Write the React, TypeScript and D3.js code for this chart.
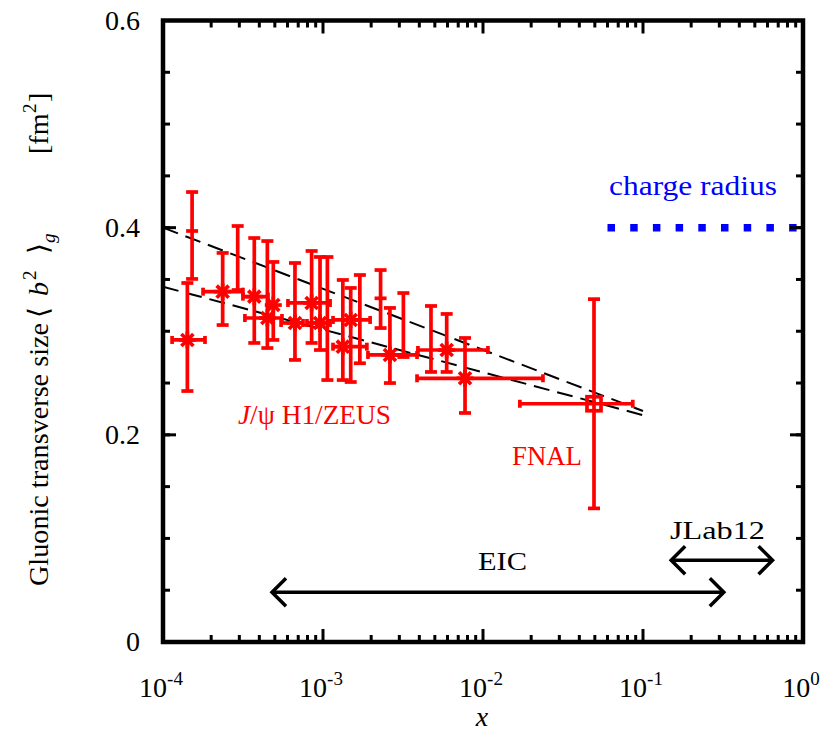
import React from "react";
import * as d3 from "d3";

// ---- data: J/psi H1/ZEUS ----
const hxX = [1.42e-4, 1.52e-4, 2.36e-4, 2.93e-4, 3.72e-4, 4.49e-4, 4.89e-4, 6.68e-4, 8.49e-4, 9.58e-4, 1.065e-3, 1.33e-3, 1.49e-3, 1.70e-3, 2.29e-3, 2.62e-3, 3.18e-3, 4.73e-3, 5.93e-3, 7.72e-3];
const hxY = [0.2916, 0.3968, 0.3382, 0.3707, 0.3334, 0.3128, 0.3253, 0.3080, 0.3273, 0.3080, 0.3109, 0.2851, 0.3109, 0.3128, 0.3318, 0.2771, 0.3060, 0.2925, 0.2819, 0.2546];
const hxYLo = [0.2423, 0.3505, 0.3060, 0.3398, 0.2887, 0.2838, 0.2916, 0.2723, 0.2887, 0.2819, 0.2529, 0.2529, 0.2510, 0.2691, 0.3031, 0.2500, 0.2751, 0.2607, 0.2607, 0.2211];
const hxYHi = [0.3466, 0.4344, 0.3756, 0.4016, 0.3900, 0.3871, 0.3669, 0.3659, 0.3775, 0.3717, 0.3717, 0.3495, 0.3418, 0.3543, 0.3591, 0.3225, 0.3369, 0.3244, 0.3167, 0.2935];
const hxXLo = [1.14e-4, 0, 1.78e-4, 0, 3.16e-4, 3.25e-4, 0, 5.47e-4, 6.04e-4, 7.94e-4, 0, 1.155e-3, 1.155e-3, 0, 0, 1.91e-3, 0, 0, 3.92e-3, 3.87e-3];
const hxXHi = [1.83e-4, 0, 3.16e-4, 0, 4.53e-4, 5.54e-4, 0, 7.50e-4, 1.107e-3, 1.107e-3, 0, 1.88e-3, 1.97e-3, 0, 0, 3.87e-3, 0, 0, 1.074e-2, 2.37e-2];
const hxMarker = ["s", "t", "s", "n", "s", "s", "s", "s", "s", "s", "n", "s", "s", "n", "t", "s", "n", "n", "s", "s"];

// ---- data: FNAL ----
const fnalX = [4.94e-2];
const fnalY = [0.230];
const fnalYLo = [0.129];
const fnalYHi = [0.331];
const fnalXLo = [1.70e-2];
const fnalXHi = [8.63e-2];

// dashed fit lines: value at x=1e-4 and x=0.1
const fitX = [1e-4, 0.1];
const fitUpper = [0.400, 0.223];
const fitLower = [0.343, 0.219];

const chargeRadiusX = [0.06, 1];
const chargeRadiusY = 0.4;

const eicRange = [4.8e-4, 0.32];
const eicY = 0.048;
const jlabRange = [0.15, 0.645];
const jlabY = 0.079;

const yTicksMajor = [0, 0.2, 0.4, 0.6];
const yTickLabels = ["0", "0.2", "0.4", "0.6"];
const xDecades = [-4, -3, -2, -1, 0];

const FONT = "'Liberation Serif', 'Times New Roman', Times, serif";

export default function App() {
  const W = 827, H = 732;
  const left = 163, right = 803, top = 20.5, bottom = 642;
  const x = d3.scaleLog().domain([1e-4, 1]).range([left, right]);
  const y = d3.scaleLinear().domain([0, 0.6]).range([bottom, top]);
  const red = "#ff0000";
  const tf = { fontFamily: FONT };
  const sw = 3.7;

  const minorX: number[] = [];
  for (let d = -4; d < 0; d++) for (let k = 2; k <= 9; k++) minorX.push(k * Math.pow(10, d));
  const minorY = d3.range(0, 0.6001, 0.05);

  const cap = 6;
  const star = (cx: number, cy: number, key: string) => {
    const r = 8.5;
    const a = r * Math.SQRT1_2;
    return (
      <g key={key} stroke={red} strokeWidth={sw}>
        <line x1={cx - r} y1={cy} x2={cx + r} y2={cy} />
        <line x1={cx} y1={cy - r} x2={cx} y2={cy + r} />
        <line x1={cx - a} y1={cy - a} x2={cx + a} y2={cy + a} />
        <line x1={cx - a} y1={cy + a} x2={cx + a} y2={cy - a} />
      </g>
    );
  };

  const errBars = (
    xs: number[], ys: number[], ylo: number[], yhi: number[], xlo: number[], xhi: number[], pre: string
  ) =>
    xs.map((xv, i) => {
      const cx = x(xv), cy = y(ys[i]);
      const parts: any[] = [];
      parts.push(<line key="v" x1={cx} y1={y(ylo[i])} x2={cx} y2={y(yhi[i])} />);
      parts.push(<line key="vc1" x1={cx - cap} y1={y(ylo[i])} x2={cx + cap} y2={y(ylo[i])} />);
      parts.push(<line key="vc2" x1={cx - cap} y1={y(yhi[i])} x2={cx + cap} y2={y(yhi[i])} />);
      if (xlo[i] > 0) {
        parts.push(<line key="h" x1={x(xlo[i])} y1={cy} x2={x(xhi[i])} y2={cy} />);
        parts.push(<line key="hc1" x1={x(xlo[i])} y1={cy - 4} x2={x(xlo[i])} y2={cy + 4} />);
        parts.push(<line key="hc2" x1={x(xhi[i])} y1={cy - 4} x2={x(xhi[i])} y2={cy + 4} />);
      }
      return (
        <g key={pre + i} stroke={red} strokeWidth={sw}>
          {parts}
        </g>
      );
    });

  const arrow = (x1: number, x2: number, yy: number, key: string) => {
    const h = 14;
    return (
      <g key={key} stroke="#000" strokeWidth={3.5} fill="none">
        <line x1={x1} y1={yy} x2={x2} y2={yy} />
        <polyline points={`${x1 + h},${yy - h} ${x1},${yy} ${x1 + h},${yy + h}`} />
        <polyline points={`${x2 - h},${yy - h} ${x2},${yy} ${x2 - h},${yy + h}`} />
      </g>
    );
  };

  const fitLine = d3.line<number>().x((_, i) => x(fitX[i])).y((d) => y(d));

  return (
    <svg width={W} height={H} style={{ position: "absolute", left: 0, top: 0, background: "#fff" }}>
      <rect x={0} y={0} width={W} height={H} fill="#fff" />
      {/* fit lines */}
      <path d={fitLine(fitUpper) || ""} stroke="#000" strokeWidth={2} fill="none" strokeDasharray="16 8" />
      <path d={fitLine(fitLower) || ""} stroke="#000" strokeWidth={2} fill="none" strokeDasharray="16 8" />

      {/* H1/ZEUS data */}
      {errBars(hxX, hxY, hxYLo, hxYHi, hxXLo, hxXHi, "h")}
      {hxX.map((xv, i) =>
        hxMarker[i] === "s" ? star(x(xv), y(hxY[i]), "s" + i) :
        hxMarker[i] === "t" ? (
          <line key={"t" + i} x1={x(xv) - cap} x2={x(xv) + cap} y1={y(hxY[i])} y2={y(hxY[i])} stroke={red} strokeWidth={sw} />
        ) : null
      )}

      {/* FNAL */}
      {errBars(fnalX, fnalY, fnalYLo, fnalYHi, fnalXLo, fnalXHi, "f")}
      {fnalX.map((xv, i) => (
        <rect key={"fs" + i} x={x(xv) - 7} y={y(fnalY[i]) - 7} width={14} height={14} fill="none" stroke={red} strokeWidth={3.7} />
      ))}

      {/* charge radius */}
      <line x1={x(chargeRadiusX[0])} x2={x(chargeRadiusX[1])} y1={y(chargeRadiusY)} y2={y(chargeRadiusY)}
        stroke="#0000ff" strokeWidth={7.5} strokeDasharray="7.5 15.2" />
      <text x={609} y={195} fill="#0000ff" fontSize={27} style={tf} textLength={168} lengthAdjust="spacingAndGlyphs">charge radius</text>

      {/* labels */}
      <text x={238} y={424} fill={red} fontSize={27} style={tf} textLength={153} lengthAdjust="spacingAndGlyphs">
        <tspan fontStyle="italic">J</tspan>/ψ H1/ZEUS
      </text>
      <text x={512} y={465} fill={red} fontSize={27} style={tf} textLength={70} lengthAdjust="spacingAndGlyphs">FNAL</text>

      {/* arrows */}
      {arrow(x(eicRange[0]), x(eicRange[1]), y(eicY), "eic")}
      {arrow(x(jlabRange[0]), x(jlabRange[1]), y(jlabY), "jlab")}
      <text x={478} y={570} fontSize={25} style={tf} textLength={49} lengthAdjust="spacingAndGlyphs">EIC</text>
      <text x={670} y={539} fontSize={25} style={tf} textLength={95} lengthAdjust="spacingAndGlyphs">JLab12</text>

      {/* frame */}
      <rect x={left} y={top} width={right - left} height={bottom - top} fill="none" stroke="#000" strokeWidth={4.5} />
      {/* ticks */}
      <g stroke="#000" strokeWidth={3}>
        {minorX.map((v, i) => (
          <g key={"mx" + i}>
            <line x1={x(v)} x2={x(v)} y1={bottom} y2={bottom - 7} />
            <line x1={x(v)} x2={x(v)} y1={top} y2={top + 7} />
          </g>
        ))}
        {xDecades.map((d, i) => (
          <g key={"Mx" + i}>
            <line x1={x(Math.pow(10, d))} x2={x(Math.pow(10, d))} y1={bottom} y2={bottom - 13} />
            <line x1={x(Math.pow(10, d))} x2={x(Math.pow(10, d))} y1={top} y2={top + 13} />
          </g>
        ))}
        {minorY.map((v, i) => (
          <g key={"my" + i}>
            <line x1={left} x2={left + 7} y1={y(v)} y2={y(v)} />
            <line x1={right} x2={right - 7} y1={y(v)} y2={y(v)} />
          </g>
        ))}
        {yTicksMajor.map((v, i) => (
          <g key={"My" + i}>
            <line x1={left} x2={left + 13} y1={y(v)} y2={y(v)} />
            <line x1={right} x2={right - 13} y1={y(v)} y2={y(v)} />
          </g>
        ))}
      </g>
      {yTicksMajor.map((v, i) => (
        <text key={"yl" + i} x={140} y={y(v) + 9} fontSize={28} style={tf} textAnchor="end">{yTickLabels[i]}</text>
      ))}
      {xDecades.map((d, i) => (
        <text key={"xl" + i} x={x(Math.pow(10, d)) - 2} y={697} fontSize={28} style={tf} textAnchor="middle">
          10<tspan dy={-12} fontSize={19}>{String(d)}</tspan>
        </text>
      ))}
      <text x={482} y={726} fontSize={28} fontStyle="italic" style={tf} textAnchor="middle">x</text>

      {/* y title */}
      <g transform="translate(48, 586) rotate(-90)" fontSize={28} style={tf}>
        <text x={0} y={0} textLength={263} lengthAdjust="spacingAndGlyphs">Gluonic transverse size</text>
        <text x={268} y={0}>⟨</text>
        <text x={290} y={0} fontStyle="italic">b</text>
        <text x={306} y={-12} fontSize={19}>2</text>
        <text x={332} y={0}>⟩</text>
        <text x={343} y={7} fontSize={19} fontStyle="italic">g</text>
        <text x={432} y={0}>[fm</text>
        <text x={473} y={-12} fontSize={19}>2</text>
        <text x={484} y={0}>]</text>
      </g>
    </svg>
  );
}
